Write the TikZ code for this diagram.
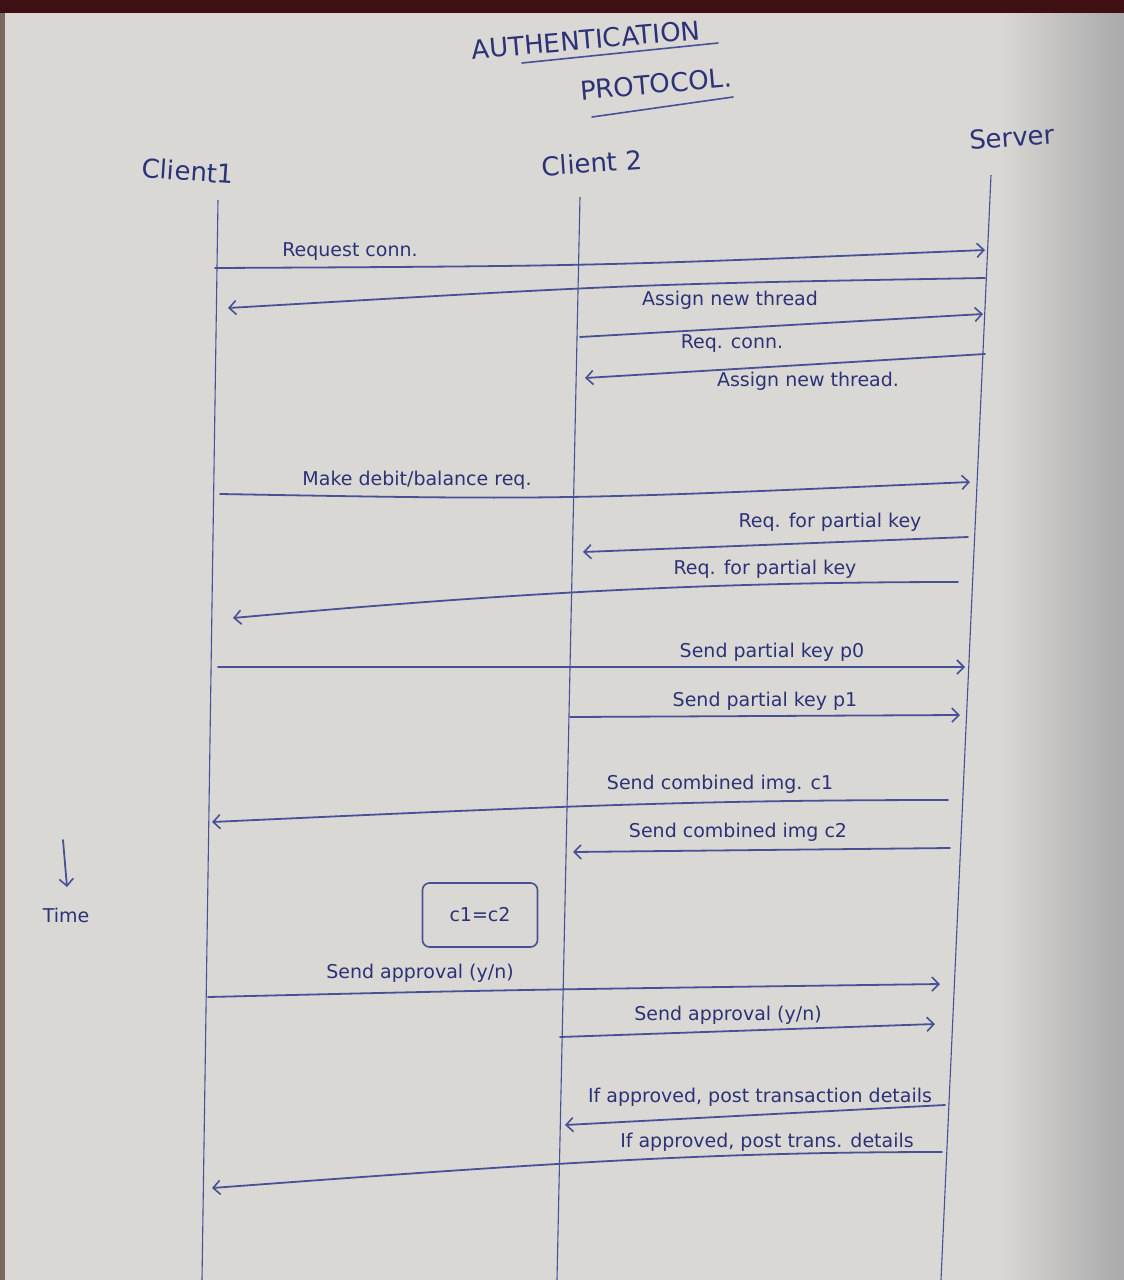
\documentclass[tikz,border=0pt]{standalone}
\usepackage{fontspec}
\setmainfont{DejaVu Sans}
\usetikzlibrary{arrows.meta,calc}
\definecolor{paper}{RGB}{217,216,212}
\definecolor{paperdark}{RGB}{170,169,171}
\definecolor{fabric}{RGB}{62,16,20}
\definecolor{edge}{RGB}{120,105,95}
\definecolor{ink}{RGB}{45,50,120}
\definecolor{inkline}{RGB}{72,80,150}
\begin{document}
\begin{tikzpicture}[x=1pt,y=-1pt,
  lifeline/.style={draw=inkline, line width=1.1pt},
  msg/.style={draw=inkline, line width=1.8pt, line cap=round,
    -{Straight Barb[length=7pt,width=14pt,line width=1.6pt]}},
  lbl/.style={text=ink, font=\fontsize{19}{22}\selectfont, inner sep=0pt},
  head/.style={text=ink, font=\fontsize{26}{30}\selectfont, inner sep=0pt},
  uline/.style={draw=inkline, line width=1.6pt, line cap=round},
]
\useasboundingbox (0,0) rectangle (1124,1280);

% sheet of paper on a dark cloth
\fill[paper] (0,0) rectangle (1124,1280);
\shade[left color=paper, right color=paperdark] (1000,0) rectangle (1124,1280);
\fill[fabric] (0,0) rectangle (1124,13);
\fill[edge] (0,13) rectangle (5,1280);

% title
\node[head, rotate=5] (title1) at (586,40) {AUTHENTICATION};
\node[head, rotate=5] (title2) at (656,84) {PROTOCOL.};
\coordinate (u1a) at (522,63); \coordinate (u1b) at (718,43);
\coordinate (u2a) at (592,117); \coordinate (u2b) at (733,97);
\draw[uline] (u1a) -- (u1b);
\draw[uline] (u2a) -- (u2b);

% participants
\node[head, rotate=-4] (h1) at (188,171) {Client1};
\node[head, rotate=4]  (h2) at (592,163) {Client 2};
\node[head, rotate=4]  (h3) at (1012,137) {Server};

% lifelines
\coordinate (c1top) at (218,200); \coordinate (c1bot) at (202,1280);
\coordinate (c2top) at (580,197); \coordinate (c2bot) at (557,1280);
\coordinate (svtop) at (991,175); \coordinate (svbot) at (941,1280);
\draw[lifeline] (c1top) -- (c1bot);
\draw[lifeline] (c2top) -- (c2bot);
\draw[lifeline] (svtop) -- (svbot);

% message end points
\coordinate (m1a) at (215,268);  \coordinate (m1b) at (985,250);
\coordinate (m2a) at (985,278);  \coordinate (m2b) at (228,308);
\coordinate (m3a) at (580,337);  \coordinate (m3b) at (983,314);
\coordinate (m4a) at (985,354);  \coordinate (m4b) at (585,378);
\coordinate (m5a) at (220,494);  \coordinate (m5b) at (970,482);
\coordinate (m6a) at (968,537);  \coordinate (m6b) at (583,552);
\coordinate (m7a) at (958,582);  \coordinate (m7b) at (233,618);
\coordinate (m8a) at (218,667);  \coordinate (m8b) at (965,667);
\coordinate (m9a) at (570,717);  \coordinate (m9b) at (960,715);
\coordinate (m10a) at (948,800); \coordinate (m10b) at (212,822);
\coordinate (m11a) at (950,848); \coordinate (m11b) at (573,852);
\coordinate (m12a) at (208,997); \coordinate (m12b) at (940,984);
\coordinate (m13a) at (560,1037); \coordinate (m13b) at (935,1024);
\coordinate (m14a) at (945,1105); \coordinate (m14b) at (565,1125);
\coordinate (m15a) at (942,1152); \coordinate (m15b) at (212,1188);

% messages (hand-drawn, slightly sagging strokes)
\draw[msg] (m1a) .. controls (600,266) .. (m1b);
\draw[msg] (m2a) .. controls (640,284) .. (m2b);
\draw[msg] (m3a) -- (m3b);
\draw[msg] (m4a) -- (m4b);
\draw[msg] (m5a) .. controls (560,500) .. (m5b);
\draw[msg] (m6a) -- (m6b);
\draw[msg] (m7a) .. controls (720,582) and (520,592) .. (m7b);
\draw[msg] (m8a) -- (m8b);
\draw[msg] (m9a) -- (m9b);
\draw[msg] (m10a) .. controls (700,800) and (560,806) .. (m10b);
\draw[msg] (m11a) -- (m11b);
\draw[msg] (m12a) .. controls (500,990) .. (m12b);
\draw[msg] (m13a) -- (m13b);
\draw[msg] (m14a) -- (m14b);
\draw[msg] (m15a) .. controls (720,1152) and (560,1162) .. (m15b);

% message labels
\node[lbl] (l1) at (350,252) {Request conn.};
\node[lbl] (l2) at (730,300) {Assign new thread};
\node[lbl] (l3) at (732,344) {Req. conn.};
\node[lbl] (l4) at (808,381) {Assign new thread.};
\node[lbl] (l5) at (417,480) {Make debit/balance req.};
\node[lbl] (l6) at (830,522) {Req. for partial key};
\node[lbl] (l7) at (765,569) {Req. for partial key};
\node[lbl] (l8) at (772,652) {Send partial key p0};
\node[lbl] (l9) at (765,701) {Send partial key p1};
\node[lbl] (l10) at (720,784) {Send combined img. c1};
\node[lbl] (l11) at (738,832) {Send combined img c2};
\node[lbl] (l12) at (420,973) {Send approval (y/n)};
\node[lbl] (l13) at (728,1015) {Send approval (y/n)};
\node[lbl] (l14) at (760,1097) {If approved, post transaction details};
\node[lbl] (l15) at (767,1142) {If approved, post trans. details};

% comparison box
\node[lbl, draw=inkline, line width=1.6pt, rounded corners=7pt,
      minimum width=115pt, minimum height=64pt] (eq) at (480,915) {c1=c2};

% time axis
\coordinate (t0) at (63,840); \coordinate (t1) at (67,887);
\draw[msg] (t0) -- (t1);
\node[lbl] (time) at (66,915) {Time};
\end{tikzpicture}
\end{document}
